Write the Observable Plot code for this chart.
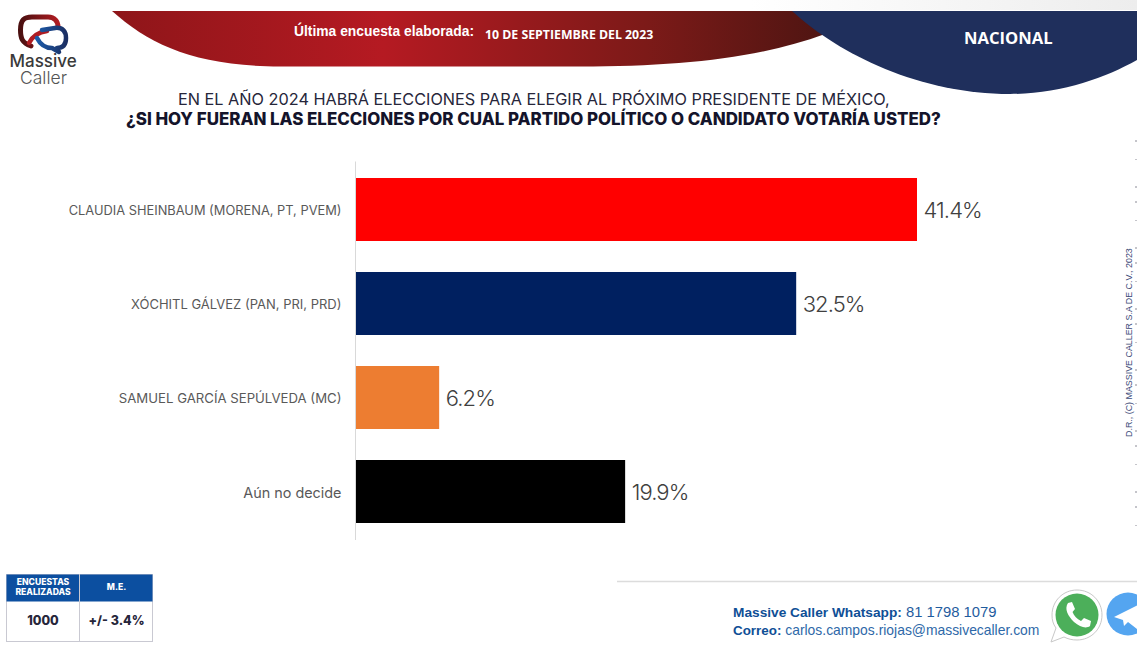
<!DOCTYPE html>
<html lang="es"><head><meta charset="utf-8">
<script src="https://cdn.jsdelivr.net/npm/d3@7"></script>
<script src="https://cdn.jsdelivr.net/npm/@observablehq/plot@0.6"></script>
<style>
html,body{margin:0;padding:0;background:#fff;overflow:hidden}
#page{position:relative;width:1137px;height:646px;overflow:hidden;background:#fff}
#page>*{position:absolute}
#deco{left:0;top:0}
#chart{left:0;top:0}
#chart g[aria-label="text"] text{letter-spacing:-.9px}
.t{white-space:nowrap}
</style></head><body>
<div id="page">
<svg id="deco" width="1137" height="646" viewBox="0 0 1137 646">
 <defs>
  <linearGradient id="red" x1="0" x2="1" y1="0" y2="0">
   <stop offset="0" stop-color="#8e1519"/><stop offset=".38" stop-color="#b51a22"/><stop offset=".75" stop-color="#7c1a18"/><stop offset="1" stop-color="#4f1512"/>
  </linearGradient>
  <linearGradient id="strip" x1="0" x2="1" y1="0" y2="0">
   <stop offset="0" stop-color="#fff"/><stop offset="1" stop-color="#ededed"/>
  </linearGradient>
  <linearGradient id="lr" x1="0" x2="1" y1="0" y2="0"><stop offset="0" stop-color="#4a1010"/><stop offset="1" stop-color="#b01c22"/></linearGradient>
  <linearGradient id="lb" x1="0" x2="1" y1="0" y2="0"><stop offset="0" stop-color="#1c5aa8"/><stop offset="1" stop-color="#1b2f63"/></linearGradient>
 </defs>
 <rect x="750" y="0" width="387" height="10" fill="url(#strip)"/>
 <path d="M112 11 C150 45 195 66 280 66.5 L580 66.5 C680 66.5 760 58 825 34 L825 11 Z" fill="url(#red)"/>
 <path d="M792 11 C840 55 920 94 1010 94 C1060 94 1105 78 1137 60 L1137 11 Z" fill="#1f2f5c"/>
 <!-- logo -->
 <g fill="none" stroke-linecap="round" stroke-linejoin="round">
  <path d="M31 46 C22 43 20.5 38 20.5 30 C20.5 20 24 17 32 17 L48 17 C55 17 58 22 58 27" stroke="url(#lr)" stroke-width="5"/>
  <path d="M29 43 C33 35 40 32 47 31" stroke="#b01c22" stroke-width="4.5"/>
  <path d="M42 30 L55 28 C63 27 66 32 66 38 C66 45 63 48 57 48 L59 52 L52 48 C45 48 40 44 37 38" stroke="url(#lb)" stroke-width="4.5"/>
 </g>
 <!-- footer rule -->
 <line x1="617" x2="1137" y1="581.5" y2="581.5" stroke="#dcdcdc" stroke-width="1.5"/>
 <line x1="1136" x2="1136" y1="140" y2="550" stroke="#8a8a95" stroke-width="1" stroke-dasharray="2 17 1 26 2 13"/>
 <!-- table -->
 <rect x="6.5" y="574.5" width="146" height="67" fill="#fff" stroke="#c9c9d2"/>
 <rect x="6.5" y="574.5" width="146" height="27" fill="#0c4fa0"/>
 <line x1="79.5" x2="79.5" y1="574" y2="642" stroke="#c9c9d2"/>
 <!-- whatsapp -->
 <path d="M1077 590 C1091 590 1102 601 1102 615 C1102 629 1091 640 1077 640 C1072 640 1068 639 1064 637 L1051 642 L1056 628 C1053 624 1052 620 1052 615 C1052 601 1063 590 1077 590 Z" fill="#fff" stroke="#c8c8c8" stroke-width="1"/>
 <circle cx="1077" cy="615" r="21.5" fill="#4caf5a"/>
 <path d="M1068 603 L1072 602 L1075 609 L1072.5 612 C1074 616 1077 619 1081 621 L1084 618 L1091 621 L1090 626 C1086 629 1080 627 1074 622 C1068 616 1064 609 1068 603 Z" fill="#fff"/>
 <!-- telegram -->
 <circle cx="1128" cy="614" r="21.5" fill="#54a5f0"/>
 <path d="M1114 617 L1140 604 L1137 629 L1128 622 L1124 626 L1123 620 Z" fill="#fff"/>
</svg>
<div id="chart"></div>
<div class="t" style="left:9.5px;top:54px;font:500 17px/15px Inter,sans-serif;color:#3a3a3a">Massive</div>
<div class="t" style="left:20px;top:71px;font:300 17.5px/14px Inter,sans-serif;color:#555">Caller</div>
<div class="t" style="left:294px;top:23px;font:bold 13.85px 'Liberation Sans',sans-serif;color:#fff">Última encuesta elaborada:</div>
<div class="t" style="left:485px;top:26px;font:bold 12.3px 'Open Sans',sans-serif;color:#fff">10 DE SEPTIEMBRE DEL 2023</div>
<div class="t" style="left:964px;top:25.5px;font:bold 16.6px 'Open Sans',sans-serif;color:#fff">NACIONAL</div>
<div class="t" style="left:178px;top:89px;font:400 16.25px Inter,sans-serif;color:#26263a">EN EL AÑO 2024 HABRÁ ELECCIONES PARA ELEGIR AL PRÓXIMO PRESIDENTE DE MÉXICO,</div>
<div class="t" style="left:126px;top:109px;font:800 16.9px Inter,sans-serif;color:#14142b">¿SI HOY FUERAN LAS ELECCIONES POR CUAL PARTIDO POLÍTICO O CANDIDATO VOTARÍA USTED?</div>
<div class="t" style="left:6px;top:577px;width:74px;text-align:center;font:800 8.6px/10px Inter,sans-serif;color:#fff">ENCUESTAS<br>REALIZADAS</div>
<div class="t" style="left:80px;top:582px;width:73px;text-align:center;font:800 8.6px/10px Inter,sans-serif;color:#fff">M.E.</div>
<div class="t" style="left:6px;top:613px;width:74px;text-align:center;font:800 12.5px Inter,sans-serif;color:#26263a">1000</div>
<div class="t" style="left:80px;top:613px;width:73px;text-align:center;font:800 12.5px Inter,sans-serif;color:#26263a">+/- 3.4%</div>
<div class="t" style="left:733px;top:604px;font:14.8px 'Liberation Sans',sans-serif;color:#1f5c9e"><b style="color:#0f4f96;font-size:13.7px">Massive Caller Whatsapp:</b> 81 1798 1079</div>
<div class="t" style="left:733px;top:622px;font:13.9px 'Liberation Sans',sans-serif;color:#2e68a8"><b style="color:#0f4f96;font-size:13.4px">Correo:</b> carlos.campos.riojas@massivecaller.com</div>
<div class="t" style="left:1129px;top:437px;transform-origin:0 0;transform:rotate(-90deg) translateY(-6px) scaleX(.926);font:9.6px 'Liberation Sans',sans-serif;color:#3c4a78">D.R., (C) MASSIVE CALLER S.A DE C.V., 2023</div>
</div>
<script>
const candidates = ["CLAUDIA SHEINBAUM (MORENA, PT, PVEM)", "XÓCHITL GÁLVEZ (PAN, PRI, PRD)", "SAMUEL GARCÍA SEPÚLVEDA (MC)", "Aún no decide"];
const shares = [41.4, 32.5, 6.2, 19.9];
const barColors = ["#ff0000", "#002060", "#ed7d31", "#000000"];
const labelSizes = [12.85, 13, 13.2, 14.4];

const rows = candidates.map((candidate, i) => ({candidate, share: shares[i], color: barColors[i]}));

const tickStyle = {tickSize: 0, tickPadding: 14, label: null, fontFamily: "Inter, sans-serif", fill: "#595959", lineWidth: 40, dy: 1};

const chart = Plot.plot({
  width: 1137,
  height: 646,
  marginTop: 161.5,
  marginBottom: 106,
  marginLeft: 355,
  marginRight: 103.25,
  style: {background: "transparent", overflow: "visible"},
  x: {domain: [0, 50], axis: null},
  y: {domain: candidates, padding: 1/3, paddingOuter: 1/6, label: null},
  marks: [
    ...candidates.map((c, i) => Plot.axisY([c], {...tickStyle, fontSize: labelSizes[i]})),
    Plot.barX(rows, {x: "share", y: "candidate", fill: "color"}),
    Plot.ruleX([0], {stroke: "#d9d9d9"}),
    Plot.text(rows, {x: "share", y: "candidate", text: d => d.share.toFixed(1) + "%", textAnchor: "start", dx: 6, dy: 1, fontSize: 22, fontFamily: "Inter, sans-serif", fontWeight: 300, fill: "#404040"})
  ]
});
document.getElementById("chart").appendChild(chart);
</script>
</body></html>
